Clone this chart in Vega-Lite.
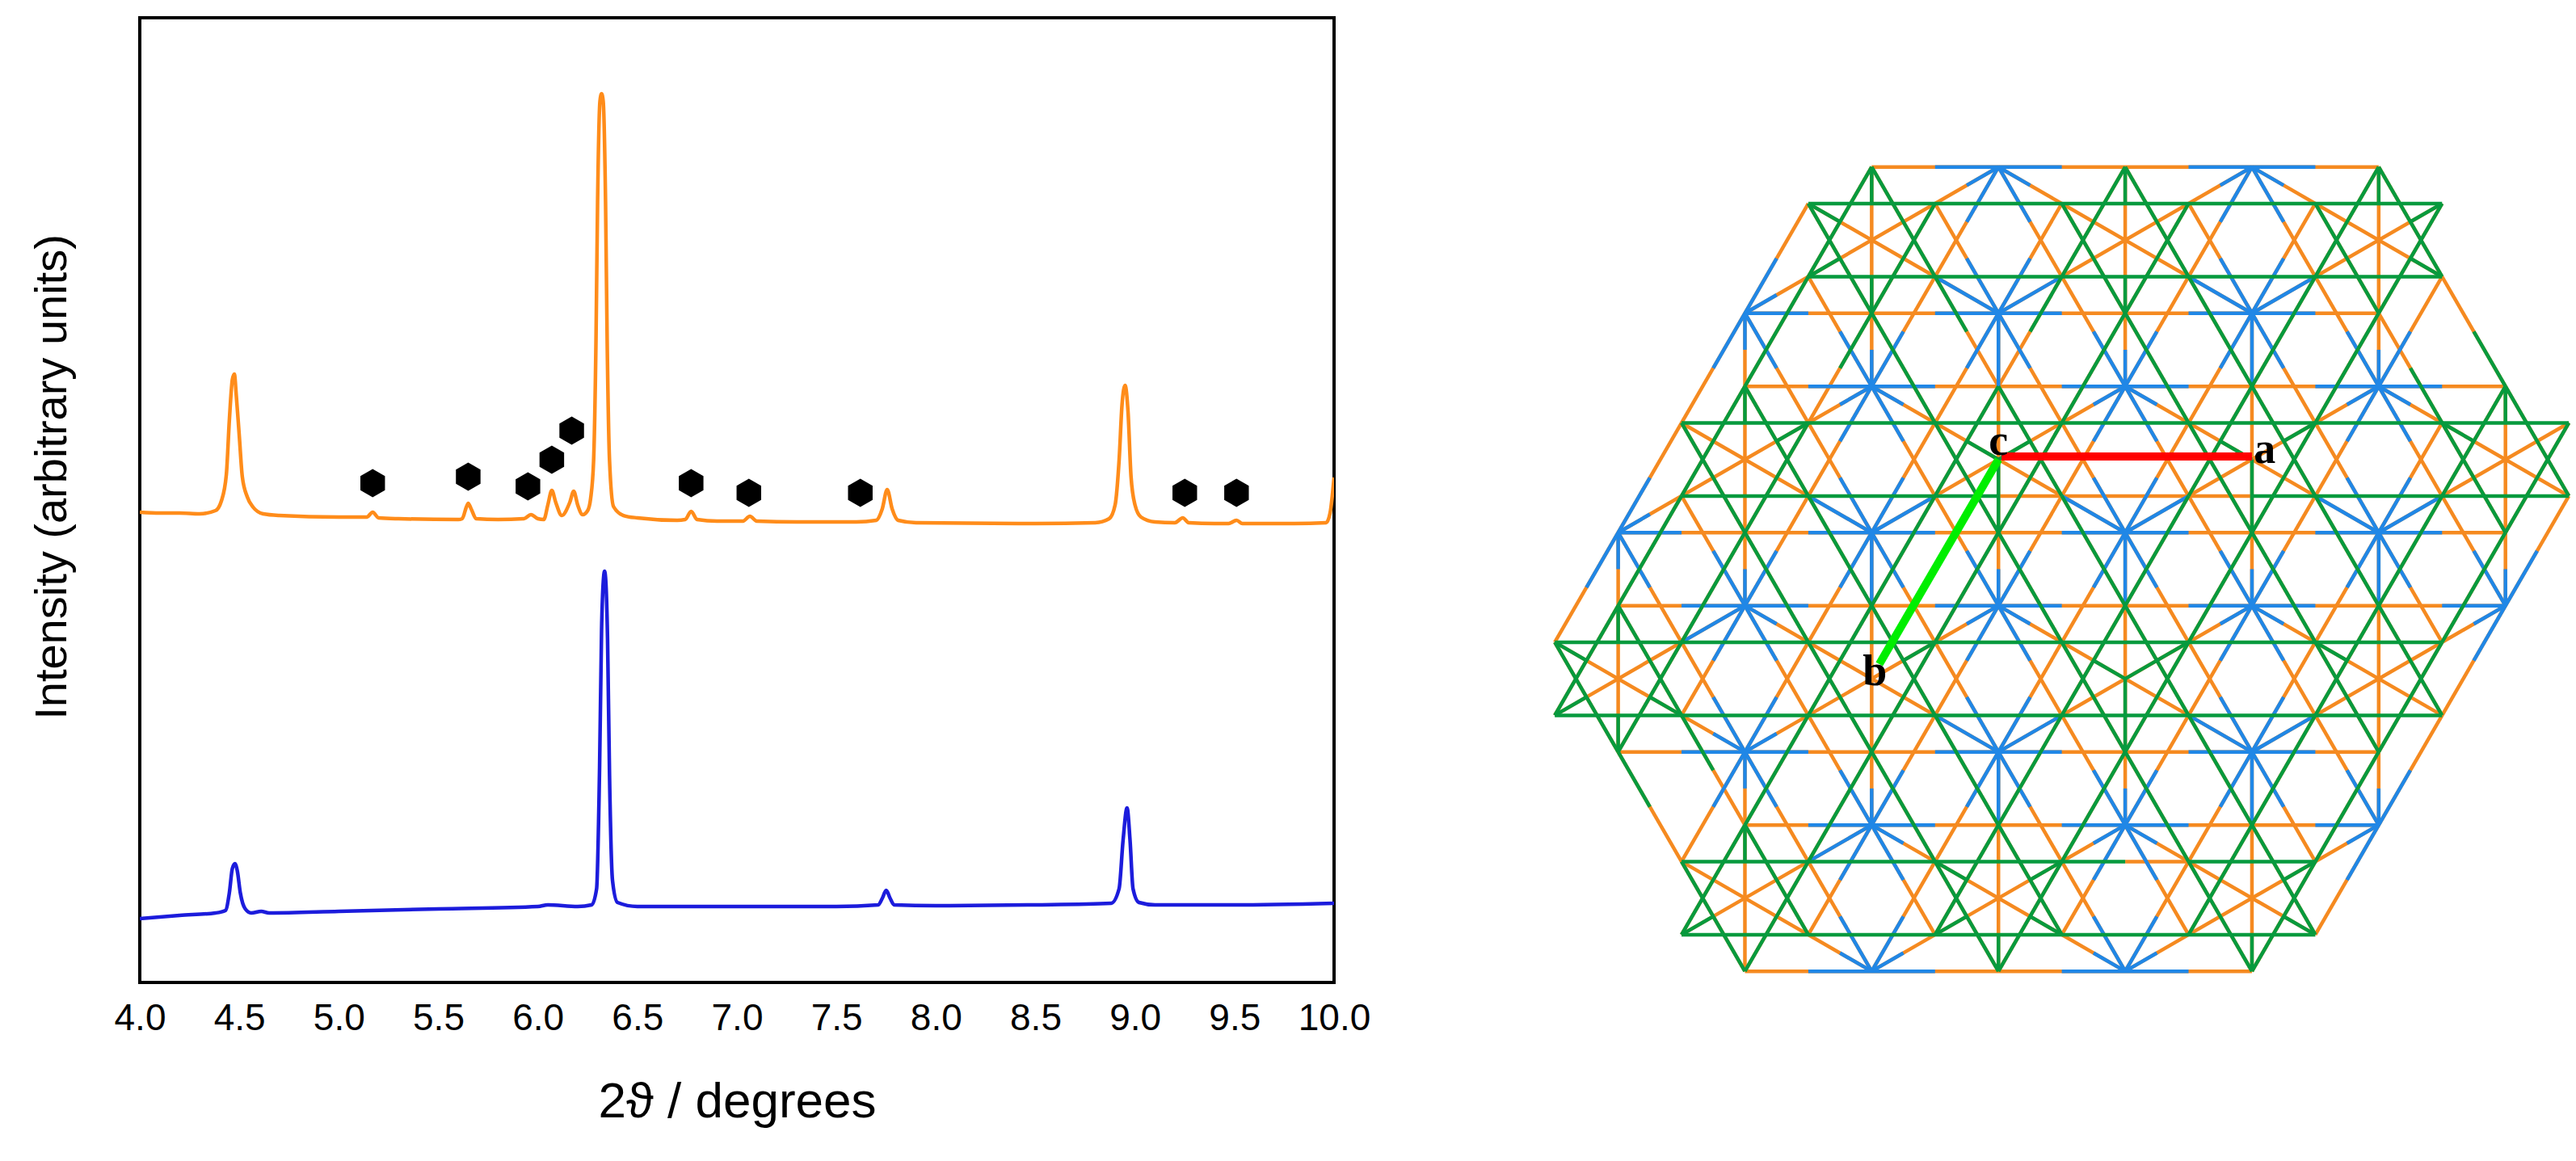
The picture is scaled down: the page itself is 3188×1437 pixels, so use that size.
{
"$schema":"https://vega.github.io/schema/vega-lite/v6.json",
"padding":{"left":34,"top":20,"right":0,"bottom":0},
"background":"white",
"spacing":2,
"config":{"font":"Liberation Sans"},
"datasets":{
"pattern":[
{"t":4.0,"i":582,"s":"a"},{"t":4.1,"i":581,"s":"a"},{"t":4.2,"i":581,"s":"a"},{"t":4.3,"i":580,"s":"a"},{"t":4.38,"i":584,"s":"a"},{"t":4.41,"i":596,"s":"a"},{"t":4.435,"i":629,"s":"a"},{"t":4.45,"i":696,"s":"a"},{"t":4.465,"i":746,"s":"a"},{"t":4.475,"i":753,"s":"a"},{"t":4.485,"i":726,"s":"a"},{"t":4.5,"i":676,"s":"a"},{"t":4.515,"i":626,"s":"a"},{"t":4.54,"i":601,"s":"a"},{"t":4.57,"i":588,"s":"a"},{"t":4.62,"i":580,"s":"a"},{"t":4.7,"i":578,"s":"a"},{"t":5.0,"i":576,"s":"a"},{"t":5.14,"i":576,"s":"a"},{"t":5.17,"i":582,"s":"a"},{"t":5.2,"i":575,"s":"a"},{"t":5.3,"i":574,"s":"a"},{"t":5.6,"i":573,"s":"a"},{"t":5.62,"i":574,"s":"a"},{"t":5.64,"i":588,"s":"a"},{"t":5.65,"i":593,"s":"a"},{"t":5.665,"i":586,"s":"a"},{"t":5.69,"i":574,"s":"a"},{"t":5.8,"i":573,"s":"a"},{"t":5.93,"i":574,"s":"a"},{"t":5.965,"i":579,"s":"a"},{"t":6.0,"i":574,"s":"a"},{"t":6.03,"i":573,"s":"a"},{"t":6.05,"i":591,"s":"a"},{"t":6.07,"i":609,"s":"a"},{"t":6.09,"i":594,"s":"a"},{"t":6.12,"i":578,"s":"a"},{"t":6.16,"i":594,"s":"a"},{"t":6.18,"i":608,"s":"a"},{"t":6.2,"i":591,"s":"a"},{"t":6.225,"i":579,"s":"a"},{"t":6.25,"i":584,"s":"a"},{"t":6.265,"i":599,"s":"a"},{"t":6.28,"i":646,"s":"a"},{"t":6.292,"i":796,"s":"a"},{"t":6.3,"i":966,"s":"a"},{"t":6.312,"i":1091,"s":"a"},{"t":6.32,"i":1100,"s":"a"},{"t":6.328,"i":1091,"s":"a"},{"t":6.34,"i":966,"s":"a"},{"t":6.348,"i":796,"s":"a"},{"t":6.36,"i":646,"s":"a"},{"t":6.38,"i":589,"s":"a"},{"t":6.43,"i":578,"s":"a"},{"t":6.5,"i":575,"s":"a"},{"t":6.7,"i":572,"s":"a"},{"t":6.74,"i":573,"s":"a"},{"t":6.77,"i":583,"s":"a"},{"t":6.8,"i":573,"s":"a"},{"t":6.9,"i":571,"s":"a"},{"t":7.03,"i":571,"s":"a"},{"t":7.065,"i":577,"s":"a"},{"t":7.1,"i":571,"s":"a"},{"t":7.3,"i":570,"s":"a"},{"t":7.6,"i":570,"s":"a"},{"t":7.7,"i":572,"s":"a"},{"t":7.73,"i":586,"s":"a"},{"t":7.755,"i":610,"s":"a"},{"t":7.78,"i":586,"s":"a"},{"t":7.81,"i":572,"s":"a"},{"t":7.9,"i":569,"s":"a"},{"t":8.5,"i":568,"s":"a"},{"t":8.8,"i":569,"s":"a"},{"t":8.87,"i":574,"s":"a"},{"t":8.9,"i":591,"s":"a"},{"t":8.92,"i":646,"s":"a"},{"t":8.935,"i":716,"s":"a"},{"t":8.95,"i":739,"s":"a"},{"t":8.965,"i":706,"s":"a"},{"t":8.98,"i":626,"s":"a"},{"t":9.0,"i":591,"s":"a"},{"t":9.03,"i":576,"s":"a"},{"t":9.1,"i":570,"s":"a"},{"t":9.2,"i":569,"s":"a"},{"t":9.24,"i":575,"s":"a"},{"t":9.27,"i":569,"s":"a"},{"t":9.4,"i":568,"s":"a"},{"t":9.47,"i":568,"s":"a"},{"t":9.51,"i":572,"s":"a"},{"t":9.54,"i":568,"s":"a"},{"t":9.8,"i":568,"s":"a"},{"t":9.96,"i":569,"s":"a"},{"t":9.98,"i":581,"s":"a"},{"t":10.0,"i":625,"s":"a"},
{"t":4.0,"i":79,"s":"b"},{"t":4.2,"i":83,"s":"b"},{"t":4.38,"i":86,"s":"b"},{"t":4.43,"i":89,"s":"b"},{"t":4.45,"i":111,"s":"b"},{"t":4.465,"i":141,"s":"b"},{"t":4.478,"i":147,"s":"b"},{"t":4.49,"i":138,"s":"b"},{"t":4.505,"i":111,"s":"b"},{"t":4.53,"i":91,"s":"b"},{"t":4.56,"i":86,"s":"b"},{"t":4.61,"i":88,"s":"b"},{"t":4.65,"i":86,"s":"b"},{"t":5.0,"i":88,"s":"b"},{"t":5.5,"i":91,"s":"b"},{"t":6.0,"i":94,"s":"b"},{"t":6.05,"i":96,"s":"b"},{"t":6.2,"i":94,"s":"b"},{"t":6.27,"i":96,"s":"b"},{"t":6.295,"i":116,"s":"b"},{"t":6.31,"i":266,"s":"b"},{"t":6.32,"i":436,"s":"b"},{"t":6.33,"i":501,"s":"b"},{"t":6.335,"i":509,"s":"b"},{"t":6.34,"i":501,"s":"b"},{"t":6.35,"i":426,"s":"b"},{"t":6.36,"i":256,"s":"b"},{"t":6.375,"i":126,"s":"b"},{"t":6.4,"i":99,"s":"b"},{"t":6.5,"i":94,"s":"b"},{"t":7.0,"i":94,"s":"b"},{"t":7.5,"i":94,"s":"b"},{"t":7.71,"i":96,"s":"b"},{"t":7.73,"i":104,"s":"b"},{"t":7.75,"i":114,"s":"b"},{"t":7.77,"i":104,"s":"b"},{"t":7.79,"i":96,"s":"b"},{"t":8.0,"i":95,"s":"b"},{"t":8.5,"i":96,"s":"b"},{"t":8.88,"i":98,"s":"b"},{"t":8.92,"i":116,"s":"b"},{"t":8.94,"i":176,"s":"b"},{"t":8.96,"i":216,"s":"b"},{"t":8.975,"i":176,"s":"b"},{"t":8.99,"i":116,"s":"b"},{"t":9.02,"i":99,"s":"b"},{"t":9.1,"i":96,"s":"b"},{"t":9.5,"i":96,"s":"b"},{"t":10.0,"i":98,"s":"b"}
],
"markers":[{"t":5.17,"i":618},{"t":5.65,"i":626},{"t":5.95,"i":614},{"t":6.07,"i":647},{"t":6.17,"i":683},{"t":6.77,"i":618},{"t":7.06,"i":606},{"t":7.62,"i":606},{"t":9.25,"i":606},{"t":9.51,"i":606}],
"orange":[
{"x":0,"y":0,"x2":-5,"y2":15},{"x":2,"y":0,"x2":-3,"y2":15},{"x":4,"y":0,"x2":-3,"y2":21},{"x":6,"y":0,"x2":-1,"y2":21},{"x":8,"y":0,"x2":1,"y2":21},{"x":9,"y":3,"x2":3,"y2":21},{"x":10,"y":6,"x2":5,"y2":21},{"x":11,"y":9,"x2":7,"y2":21},
{"x":0,"y":0,"x2":7,"y2":21},{"x":2,"y":0,"x2":8,"y2":18},{"x":4,"y":0,"x2":9,"y2":15},{"x":6,"y":0,"x2":10,"y2":12},{"x":8,"y":0,"x2":11,"y2":9},{"x":-1,"y":3,"x2":5,"y2":21},{"x":-2,"y":6,"x2":3,"y2":21},{"x":-3,"y":9,"x2":1,"y2":21},{"x":-4,"y":12,"x2":-1,"y2":21},
{"x":-1,"y":1,"x2":-5,"y2":13},{"x":1,"y":1,"x2":-4,"y2":16},{"x":3,"y":1,"x2":-3,"y2":19},{"x":5,"y":1,"x2":-2,"y2":22},{"x":7,"y":1,"x2":0,"y2":22},{"x":9,"y":1,"x2":2,"y2":22},{"x":9,"y":7,"x2":4,"y2":22},{"x":11,"y":7,"x2":6,"y2":22},
{"x":-1,"y":1,"x2":6,"y2":22},{"x":1,"y":1,"x2":7,"y2":19},{"x":3,"y":1,"x2":8,"y2":16},{"x":5,"y":1,"x2":9,"y2":13},{"x":7,"y":1,"x2":10,"y2":10},{"x":-2,"y":4,"x2":4,"y2":22},{"x":-3,"y":7,"x2":2,"y2":22},{"x":-4,"y":10,"x2":0,"y2":22},{"x":-5,"y":13,"x2":-2,"y2":22},
{"x":2,"y":0,"x2":-2,"y2":4},{"x":6,"y":0,"x2":2,"y2":4},{"x":9,"y":1,"x2":6,"y2":4},{"x":-1,"y":1,"x2":2,"y2":4},{"x":2,"y":0,"x2":6,"y2":4},{"x":6,"y":0,"x2":9,"y2":3},
{"x":0,"y":6,"x2":-4,"y2":10},{"x":4,"y":6,"x2":0,"y2":10},{"x":8,"y":6,"x2":4,"y2":10},{"x":11,"y":7,"x2":8,"y2":10},{"x":-3,"y":7,"x2":0,"y2":10},{"x":0,"y":6,"x2":4,"y2":10},{"x":4,"y":6,"x2":8,"y2":10},{"x":8,"y":6,"x2":11,"y2":9},
{"x":-2,"y":12,"x2":-5,"y2":15},{"x":2,"y":12,"x2":-2,"y2":16},{"x":6,"y":12,"x2":2,"y2":16},{"x":10,"y":12,"x2":6,"y2":16},{"x":-5,"y":13,"x2":-2,"y2":16},{"x":-2,"y":12,"x2":2,"y2":16},{"x":2,"y":12,"x2":6,"y2":16},{"x":6,"y":12,"x2":9,"y2":15},
{"x":0,"y":18,"x2":-3,"y2":21},{"x":4,"y":18,"x2":0,"y2":22},{"x":8,"y":18,"x2":4,"y2":22},{"x":-3,"y":19,"x2":0,"y2":22},{"x":0,"y":18,"x2":4,"y2":22},{"x":4,"y":18,"x2":7,"y2":21},
{"x":-4,"y":10,"x2":-4,"y2":16},{"x":-2,"y":4,"x2":-2,"y2":12},{"x":-2,"y":16,"x2":-2,"y2":22},{"x":0,"y":0,"x2":0,"y2":6},{"x":0,"y":10,"x2":0,"y2":18},{"x":2,"y":4,"x2":2,"y2":12},{"x":2,"y":16,"x2":2,"y2":22},{"x":4,"y":0,"x2":4,"y2":6},{"x":4,"y":10,"x2":4,"y2":18},{"x":6,"y":4,"x2":6,"y2":12},{"x":6,"y":16,"x2":6,"y2":22},{"x":8,"y":0,"x2":8,"y2":6},{"x":8,"y":10,"x2":8,"y2":18},{"x":10,"y":6,"x2":10,"y2":12},
{"x":0,"y":0,"x2":8,"y2":0},{"x":-2,"y":4,"x2":8,"y2":4},{"x":-2,"y":6,"x2":10,"y2":6},{"x":-4,"y":10,"x2":10,"y2":10},{"x":-4,"y":12,"x2":10,"y2":12},{"x":-4,"y":16,"x2":8,"y2":16},{"x":-2,"y":18,"x2":8,"y2":18},{"x":-2,"y":22,"x2":6,"y2":22},{"x":2,"y":9,"x2":6,"y2":9},{"x":4,"y":19,"x2":5,"y2":19}
],
"blue":[
{"x":2,"y":0,"x2":1.5,"y2":1.5},{"x":2,"y":0,"x2":2.5,"y2":1.5},{"x":6,"y":0,"x2":5.5,"y2":1.5},{"x":6,"y":0,"x2":6.5,"y2":1.5},
{"x":-1.5,"y":2.5,"x2":-2.5,"y2":5.5},{"x":-2,"y":4,"x2":-1.5,"y2":5.5},{"x":1.5,"y":2.5,"x2":2.5,"y2":5.5},{"x":2.5,"y":2.5,"x2":1.5,"y2":5.5},{"x":5.5,"y":2.5,"x2":6.5,"y2":5.5},{"x":6.5,"y":2.5,"x2":5.5,"y2":5.5},
{"x":-0.5,"y":4.5,"x2":0.5,"y2":7.5},{"x":0.5,"y":4.5,"x2":-0.5,"y2":7.5},{"x":3.5,"y":4.5,"x2":4.5,"y2":7.5},{"x":4.5,"y":4.5,"x2":3.5,"y2":7.5},{"x":7.5,"y":4.5,"x2":8.5,"y2":7.5},{"x":8.5,"y":4.5,"x2":7.5,"y2":7.5},
{"x":-3.5,"y":8.5,"x2":-4.5,"y2":11.5},{"x":-4,"y":10,"x2":-3.5,"y2":11.5},{"x":-0.5,"y":8.5,"x2":0.5,"y2":11.5},{"x":0.5,"y":8.5,"x2":-0.5,"y2":11.5},{"x":3.5,"y":8.5,"x2":4.5,"y2":11.5},{"x":4.5,"y":8.5,"x2":3.5,"y2":11.5},{"x":7.5,"y":8.5,"x2":8.5,"y2":11.5},{"x":8.5,"y":8.5,"x2":7.5,"y2":11.5},
{"x":-2.5,"y":10.5,"x2":-1.5,"y2":13.5},{"x":-1.5,"y":10.5,"x2":-2.5,"y2":13.5},{"x":1.5,"y":10.5,"x2":2.5,"y2":13.5},{"x":2.5,"y":10.5,"x2":1.5,"y2":13.5},{"x":5.5,"y":10.5,"x2":6.5,"y2":13.5},{"x":6.5,"y":10.5,"x2":5.5,"y2":13.5},{"x":10.5,"y":10.5,"x2":9.5,"y2":13.5},{"x":9.5,"y":10.5,"x2":10,"y2":12},
{"x":-2.5,"y":14.5,"x2":-1.5,"y2":17.5},{"x":-1.5,"y":14.5,"x2":-2.5,"y2":17.5},{"x":1.5,"y":14.5,"x2":2.5,"y2":17.5},{"x":2.5,"y":14.5,"x2":1.5,"y2":17.5},{"x":5.5,"y":14.5,"x2":6.5,"y2":17.5},{"x":6.5,"y":14.5,"x2":5.5,"y2":17.5},
{"x":-0.5,"y":16.5,"x2":0.5,"y2":19.5},{"x":0.5,"y":16.5,"x2":-0.5,"y2":19.5},{"x":3.5,"y":16.5,"x2":4.5,"y2":19.5},{"x":4.5,"y":16.5,"x2":3.5,"y2":19.5},{"x":8.5,"y":16.5,"x2":7.5,"y2":19.5},{"x":7.5,"y":16.5,"x2":8,"y2":18},
{"x":-0.5,"y":20.5,"x2":0,"y2":22},{"x":0.5,"y":20.5,"x2":0,"y2":22},{"x":3.5,"y":20.5,"x2":4,"y2":22},{"x":4.5,"y":20.5,"x2":4,"y2":22},
{"x":2,"y":0,"x2":1.5,"y2":0.5},{"x":2,"y":0,"x2":2.5,"y2":0.5},{"x":6,"y":0,"x2":5.5,"y2":0.5},{"x":6,"y":0,"x2":6.5,"y2":0.5},{"x":-2,"y":4,"x2":-1.5,"y2":3.5},{"x":2,"y":4,"x2":1,"y2":3},{"x":2,"y":4,"x2":3,"y2":3},{"x":6,"y":4,"x2":5,"y2":3},{"x":6,"y":4,"x2":7,"y2":3},
{"x":0,"y":6,"x2":-0.5,"y2":6.5},{"x":0,"y":6,"x2":0.5,"y2":6.5},{"x":4,"y":6,"x2":3.5,"y2":6.5},{"x":4,"y":6,"x2":4.5,"y2":6.5},{"x":8,"y":6,"x2":7.5,"y2":6.5},{"x":8,"y":6,"x2":8.5,"y2":6.5},
{"x":-4,"y":10,"x2":-3.5,"y2":9.5},{"x":0,"y":10,"x2":-1,"y2":9},{"x":0,"y":10,"x2":1,"y2":9},{"x":4,"y":10,"x2":3,"y2":9},{"x":4,"y":10,"x2":5,"y2":9},{"x":8,"y":10,"x2":7,"y2":9},{"x":8,"y":10,"x2":9,"y2":9},
{"x":-2,"y":12,"x2":-3,"y2":13},{"x":-2,"y":12,"x2":-1.5,"y2":12.5},{"x":2,"y":12,"x2":1.5,"y2":12.5},{"x":2,"y":12,"x2":2.5,"y2":12.5},{"x":6,"y":12,"x2":5.5,"y2":12.5},{"x":6,"y":12,"x2":6.5,"y2":12.5},{"x":10,"y":12,"x2":9.5,"y2":12.5},
{"x":-2,"y":16,"x2":-2.5,"y2":15.5},{"x":-2,"y":16,"x2":-1.5,"y2":15.5},{"x":2,"y":16,"x2":1,"y2":15},{"x":2,"y":16,"x2":3,"y2":15},{"x":6,"y":16,"x2":5,"y2":15},{"x":6,"y":16,"x2":7,"y2":15},
{"x":0,"y":18,"x2":-1,"y2":19},{"x":0,"y":18,"x2":0.5,"y2":18.5},{"x":4,"y":18,"x2":3.5,"y2":18.5},{"x":4,"y":18,"x2":4.5,"y2":18.5},{"x":8,"y":18,"x2":7.5,"y2":18.5},
{"x":0,"y":22,"x2":-0.5,"y2":21.5},{"x":0,"y":22,"x2":0.5,"y2":21.5},{"x":4,"y":22,"x2":3.5,"y2":21.5},{"x":4,"y":22,"x2":4.5,"y2":21.5},
{"x":-4,"y":10,"x2":-4,"y2":11},{"x":-2,"y":4,"x2":-2,"y2":5},{"x":-2,"y":11,"x2":-2,"y2":12},{"x":-2,"y":16,"x2":-2,"y2":17},{"x":0,"y":5,"x2":0,"y2":6},{"x":0,"y":10,"x2":0,"y2":12},{"x":0,"y":17,"x2":0,"y2":18},{"x":2,"y":4,"x2":2,"y2":6},{"x":2,"y":11,"x2":2,"y2":12},{"x":2,"y":16,"x2":2,"y2":18},{"x":4,"y":5,"x2":4,"y2":6},{"x":4,"y":10,"x2":4,"y2":12},{"x":4,"y":17,"x2":4,"y2":18},{"x":6,"y":4,"x2":6,"y2":6},{"x":6,"y":11,"x2":6,"y2":12},{"x":6,"y":16,"x2":6,"y2":18},{"x":8,"y":5,"x2":8,"y2":6},{"x":8,"y":10,"x2":8,"y2":12},{"x":8,"y":17,"x2":8,"y2":18},{"x":10,"y":11,"x2":10,"y2":12},
{"x":1,"y":0,"x2":3,"y2":0},{"x":5,"y":0,"x2":7,"y2":0},{"x":-2,"y":4,"x2":-1,"y2":4},{"x":1,"y":4,"x2":3,"y2":4},{"x":5,"y":4,"x2":7,"y2":4},{"x":-1,"y":6,"x2":1,"y2":6},{"x":3,"y":6,"x2":5,"y2":6},{"x":7,"y":6,"x2":9,"y2":6},{"x":-4,"y":10,"x2":-3,"y2":10},{"x":-1,"y":10,"x2":1,"y2":10},{"x":3,"y":10,"x2":5,"y2":10},{"x":7,"y":10,"x2":9,"y2":10},{"x":-3,"y":12,"x2":-1,"y2":12},{"x":1,"y":12,"x2":3,"y2":12},{"x":5,"y":12,"x2":7,"y2":12},{"x":9,"y":12,"x2":10,"y2":12},{"x":-3,"y":16,"x2":-1,"y2":16},{"x":1,"y":16,"x2":3,"y2":16},{"x":5,"y":16,"x2":7,"y2":16},{"x":-1,"y":18,"x2":1,"y2":18},{"x":3,"y":18,"x2":5,"y2":18},{"x":7,"y":18,"x2":8,"y2":18},{"x":-1,"y":22,"x2":1,"y2":22},{"x":3,"y":22,"x2":5,"y2":22}
],
"green":[
{"x":0,"y":0,"x2":-1,"y2":3},{"x":0,"y":0,"x2":1,"y2":3},{"x":0,"y":4,"x2":-1,"y2":1},{"x":0,"y":4,"x2":1,"y2":1},
{"x":4,"y":0,"x2":3,"y2":3},{"x":4,"y":0,"x2":5,"y2":3},{"x":4,"y":4,"x2":3,"y2":1},{"x":4,"y":4,"x2":5,"y2":1},
{"x":8,"y":0,"x2":7,"y2":3},{"x":8,"y":0,"x2":9,"y2":3},{"x":8,"y":4,"x2":7,"y2":1},{"x":8,"y":4,"x2":9,"y2":1},
{"x":-2,"y":6,"x2":-3,"y2":9},{"x":-2,"y":6,"x2":-1,"y2":9},{"x":-2,"y":10,"x2":-3,"y2":7},{"x":-2,"y":10,"x2":-1,"y2":7},
{"x":2,"y":6,"x2":1,"y2":9},{"x":2,"y":6,"x2":3,"y2":9},{"x":2,"y":10,"x2":1,"y2":7},{"x":2,"y":10,"x2":3,"y2":7},
{"x":6,"y":6,"x2":5,"y2":9},{"x":6,"y":6,"x2":7,"y2":9},{"x":6,"y":10,"x2":5,"y2":7},{"x":6,"y":10,"x2":7,"y2":7},
{"x":10,"y":6,"x2":9,"y2":9},{"x":10,"y":6,"x2":11,"y2":9},{"x":10,"y":10,"x2":9,"y2":7},{"x":10,"y":10,"x2":11,"y2":7},
{"x":-4,"y":12,"x2":-5,"y2":15},{"x":-4,"y":12,"x2":-3,"y2":15},{"x":-4,"y":16,"x2":-5,"y2":13},{"x":-4,"y":16,"x2":-3,"y2":13},
{"x":0,"y":12,"x2":-1,"y2":15},{"x":0,"y":12,"x2":1,"y2":15},{"x":0,"y":16,"x2":-1,"y2":13},{"x":0,"y":16,"x2":1,"y2":13},
{"x":4,"y":12,"x2":3,"y2":15},{"x":4,"y":12,"x2":5,"y2":15},{"x":4,"y":16,"x2":3,"y2":13},{"x":4,"y":16,"x2":5,"y2":13},
{"x":8,"y":12,"x2":7,"y2":15},{"x":8,"y":12,"x2":9,"y2":15},{"x":8,"y":16,"x2":7,"y2":13},{"x":8,"y":16,"x2":9,"y2":13},
{"x":-2,"y":18,"x2":-3,"y2":21},{"x":-2,"y":18,"x2":-1,"y2":21},{"x":-2,"y":22,"x2":-3,"y2":19},{"x":-2,"y":22,"x2":-1,"y2":19},
{"x":2,"y":18,"x2":1,"y2":21},{"x":2,"y":18,"x2":3,"y2":21},{"x":2,"y":22,"x2":1,"y2":19},{"x":2,"y":22,"x2":3,"y2":19},
{"x":6,"y":18,"x2":5,"y2":21},{"x":6,"y":18,"x2":7,"y2":21},{"x":6,"y":22,"x2":5,"y2":19},{"x":6,"y":22,"x2":7,"y2":19},
{"x":-2,"y":6,"x2":-1,"y2":3},{"x":1,"y":3,"x2":1.5,"y2":4.5},{"x":3,"y":3,"x2":2.5,"y2":4.5},{"x":6,"y":6,"x2":5,"y2":3},{"x":6,"y":6,"x2":7,"y2":3},{"x":10,"y":6,"x2":9.5,"y2":4.5},
{"x":-4,"y":12,"x2":-3,"y2":9},{"x":0,"y":12,"x2":-1,"y2":9},{"x":0,"y":12,"x2":1,"y2":9},{"x":4,"y":12,"x2":3,"y2":9},{"x":4,"y":12,"x2":5,"y2":9},{"x":8,"y":12,"x2":7,"y2":9},{"x":8,"y":12,"x2":9,"y2":9},
{"x":-3,"y":15,"x2":-2.5,"y2":16.5},{"x":-2,"y":18,"x2":-1,"y2":15},{"x":2,"y":18,"x2":1,"y2":15},{"x":2,"y":18,"x2":3,"y2":15},{"x":6,"y":18,"x2":5,"y2":15},{"x":6,"y":18,"x2":7,"y2":15},
{"x":0,"y":4,"x2":-0.5,"y2":5.5},{"x":0,"y":4,"x2":1,"y2":7},{"x":4,"y":4,"x2":3,"y2":7},{"x":4,"y":4,"x2":5,"y2":7},{"x":8,"y":4,"x2":7,"y2":7},{"x":9,"y":7,"x2":8.5,"y2":5.5},
{"x":-2,"y":10,"x2":-3,"y2":13},{"x":-2,"y":10,"x2":-1,"y2":13},{"x":2,"y":10,"x2":1,"y2":13},{"x":2,"y":10,"x2":3,"y2":13},{"x":6,"y":10,"x2":5,"y2":13},{"x":6,"y":10,"x2":7,"y2":13},{"x":10,"y":10,"x2":9,"y2":13},
{"x":-4,"y":16,"x2":-3.5,"y2":17.5},{"x":0,"y":16,"x2":-1,"y2":19},{"x":0,"y":16,"x2":1,"y2":19},{"x":4,"y":16,"x2":3,"y2":19},{"x":4,"y":16,"x2":5,"y2":19},{"x":8,"y":16,"x2":7,"y2":19},
{"x":-1,"y":1,"x2":-0.5,"y2":1.5},{"x":-1,"y":3,"x2":-0.5,"y2":2.5},{"x":9,"y":1,"x2":8.5,"y2":1.5},{"x":9,"y":3,"x2":8.5,"y2":2.5},{"x":-1,"y":7,"x2":-1.5,"y2":7.5},{"x":2,"y":8,"x2":1.5,"y2":7.5},{"x":2,"y":8,"x2":2.5,"y2":7.5},{"x":6,"y":8,"x2":5.5,"y2":7.5},{"x":7,"y":7,"x2":6.5,"y2":7.5},{"x":9,"y":7,"x2":9.5,"y2":7.5},
{"x":-5,"y":13,"x2":-4.5,"y2":13.5},{"x":-5,"y":15,"x2":-4.5,"y2":14.5},{"x":-3,"y":15,"x2":-3.5,"y2":14.5},{"x":1,"y":13,"x2":0.5,"y2":13.5},{"x":4,"y":14,"x2":3.5,"y2":13.5},{"x":5,"y":13,"x2":4,"y2":14},{"x":7,"y":13,"x2":7.5,"y2":13.5},
{"x":-3,"y":21,"x2":-2.5,"y2":20.5},{"x":1,"y":19,"x2":1.5,"y2":19.5},{"x":3,"y":19,"x2":2.5,"y2":19.5},{"x":1,"y":21,"x2":1.5,"y2":20.5},{"x":3,"y":21,"x2":2.5,"y2":20.5},{"x":7,"y":19,"x2":6.5,"y2":19.5},{"x":7,"y":21,"x2":6.5,"y2":20.5},
{"x":-4,"y":12,"x2":-4,"y2":13},{"x":-4,"y":15,"x2":-4,"y2":16},{"x":-2,"y":6,"x2":-2,"y2":7},{"x":-2,"y":18,"x2":-2,"y2":19},{"x":0,"y":0,"x2":0,"y2":1},{"x":0,"y":3,"x2":0,"y2":4},{"x":2,"y":8,"x2":2,"y2":10},{"x":2,"y":21,"x2":2,"y2":22},{"x":4,"y":0,"x2":4,"y2":1},{"x":4,"y":3,"x2":4,"y2":4},{"x":4,"y":14,"x2":4,"y2":16},{"x":6,"y":8,"x2":6,"y2":10},{"x":6,"y":21,"x2":6,"y2":22},{"x":8,"y":0,"x2":8,"y2":1},{"x":10,"y":6,"x2":10,"y2":7},
{"x":-1,"y":1,"x2":9,"y2":1},{"x":-1,"y":3,"x2":9,"y2":3},{"x":-3,"y":7,"x2":11,"y2":7},{"x":-3,"y":9,"x2":2,"y2":9},{"x":6,"y":9,"x2":11,"y2":9},{"x":-5,"y":13,"x2":9,"y2":13},{"x":-5,"y":15,"x2":9,"y2":15},{"x":-3,"y":19,"x2":4,"y2":19},{"x":5,"y":19,"x2":7,"y2":19},{"x":-3,"y":21,"x2":7,"y2":21}
],
"cellA":[{"x":2.05,"y":7.92,"x2":6,"y2":7.92}],
"cellB":[{"x":2,"y":8,"x2":0.12,"y2":13.6}],
"cellLabels":[{"x":2,"y":7.52,"label":"c"},{"x":6.2,"y":7.74,"label":"a"},{"x":0.05,"y":13.82,"label":"b"}]
},
"hconcat":[
{
"width":1478,"height":1194,
"view":{"stroke":"black","strokeWidth":4},
"layer":[
{"data":{"name":"pattern"},
"mark":{"type":"line","strokeWidth":4.5,"clip":true,"interpolate":"monotone"},
"encoding":{
"x":{"field":"t","type":"quantitative","scale":{"domain":[4,10],"nice":false},
"axis":{"title":"2ϑ / degrees","values":[4,4.5,5,5.5,6,6.5,7,7.5,8,8.5,9,9.5,10],"format":".1f","grid":false,"domain":false,"ticks":false,"labelFontSize":46,"labelColor":"black","labelPadding":22,"labelFlush":false,"titleFontSize":62,"titleFontWeight":"normal","titleColor":"black","titlePadding":50}},
"y":{"field":"i","type":"quantitative","scale":{"domain":[0,1194],"nice":false},
"axis":{"title":"Intensity (arbitrary units)","labels":false,"ticks":false,"domain":false,"grid":false,"titleFontSize":56,"titleFontWeight":"normal","titleColor":"black","titlePadding":80,"titleY":568}},
"color":{"field":"s","type":"nominal","legend":null,"scale":{"domain":["a","b"],"range":["#ff8c1a","#1c1cdc"]}}
}},
{"data":{"name":"markers"},
"mark":{"type":"point","shape":"M0,-1L0.87,-0.5L0.87,0.5L0,1L-0.87,0.5L-0.87,-0.5Z","filled":true,"size":1225,"color":"black","opacity":1},
"encoding":{"x":{"field":"t","type":"quantitative"},"y":{"field":"i","type":"quantitative"}}}
]
},
{
"width":1488,"height":1194,
"view":{"stroke":null},
"encoding":{
"x":{"field":"x","type":"quantitative","scale":{"domain":[-7.858,11.113],"nice":false,"zero":false},"axis":null},
"y":{"field":"y","type":"quantitative","scale":{"domain":[-4.082,22.306],"reverse":true,"nice":false,"zero":false},"axis":null},
"x2":{"field":"x2"},"y2":{"field":"y2"}
},
"layer":[
{"data":{"name":"orange"},"mark":{"type":"rule","strokeWidth":4.5,"color":"#f58a20"}},
{"data":{"name":"blue"},"mark":{"type":"rule","strokeWidth":4.5,"color":"#2087e6"}},
{"data":{"name":"green"},"mark":{"type":"rule","strokeWidth":4.5,"color":"#079a3e"}},
{"data":{"name":"cellA"},"mark":{"type":"rule","strokeWidth":10,"color":"#ff0000"}},
{"data":{"name":"cellB"},"mark":{"type":"rule","strokeWidth":10,"color":"#00ee00"}},
{"data":{"name":"cellLabels"},"mark":{"type":"text","font":"Liberation Serif","fontWeight":"bold","fontSize":54,"baseline":"middle","align":"center","color":"black"},
"encoding":{"x":{"field":"x","type":"quantitative"},"y":{"field":"y","type":"quantitative"},"x2":null,"y2":null,"text":{"field":"label"}}}
]
}
]
}
